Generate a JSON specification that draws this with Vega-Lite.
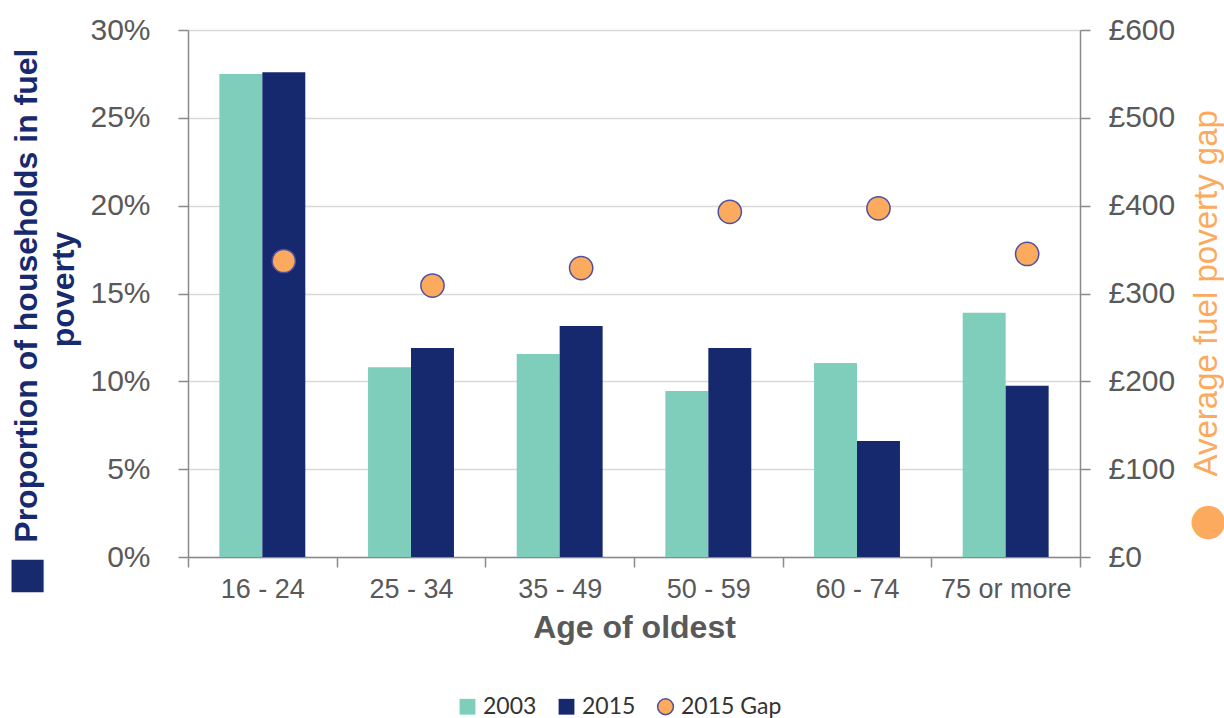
{
  "$schema": "https://vega.github.io/schema/vega-lite/v6.json",
  "width": 892,
  "height": 527,
  "autosize": {"type": "none"},
  "padding": {"left": 188, "top": 30, "right": 144, "bottom": 161},
  "background": "white",
  "config": {
    "view": {"stroke": null},
    "font": "Liberation Sans"
  },
  "datasets": {
    "bars": [
      {"age": "16 - 24", "slot": "2003", "series": "2003", "pct": 0.275},
      {"age": "16 - 24", "slot": "2015", "series": "2015", "pct": 0.276},
      {"age": "25 - 34", "slot": "2003", "series": "2003", "pct": 0.108},
      {"age": "25 - 34", "slot": "2015", "series": "2015", "pct": 0.119},
      {"age": "35 - 49", "slot": "2003", "series": "2003", "pct": 0.1155},
      {"age": "35 - 49", "slot": "2015", "series": "2015", "pct": 0.1315},
      {"age": "50 - 59", "slot": "2003", "series": "2003", "pct": 0.0945},
      {"age": "50 - 59", "slot": "2015", "series": "2015", "pct": 0.119},
      {"age": "60 - 74", "slot": "2003", "series": "2003", "pct": 0.1105},
      {"age": "60 - 74", "slot": "2015", "series": "2015", "pct": 0.066},
      {"age": "75 or more", "slot": "2003", "series": "2003", "pct": 0.139},
      {"age": "75 or more", "slot": "2015", "series": "2015", "pct": 0.0975}
    ],
    "gaps": [
      {"age": "16 - 24", "slot": "2015", "series": "2015 Gap", "gap": 337},
      {"age": "25 - 34", "slot": "2015", "series": "2015 Gap", "gap": 309},
      {"age": "35 - 49", "slot": "2015", "series": "2015 Gap", "gap": 329},
      {"age": "50 - 59", "slot": "2015", "series": "2015 Gap", "gap": 393},
      {"age": "60 - 74", "slot": "2015", "series": "2015 Gap", "gap": 397},
      {"age": "75 or more", "slot": "2015", "series": "2015 Gap", "gap": 345}
    ]
  },
  "encoding": {
    "x": {
      "field": "age",
      "type": "nominal",
      "sort": ["16 - 24", "25 - 34", "35 - 49", "50 - 59", "60 - 74", "75 or more"],
      "scale": {"paddingInner": 0, "paddingOuter": 0},
      "axis": {
        "title": "Age of oldest",
        "titleFontSize": 32,
        "titleFontWeight": "bold",
        "titleColor": "#595959",
        "titlePadding": 10,
        "labelFontSize": 27,
        "labelColor": "#595959",
        "labelAngle": 0,
        "labelPadding": 9,
        "tickBand": "extent",
        "tickSize": 10,
        "tickColor": "#8a8a8a",
        "tickWidth": 1.5,
        "domainColor": "#8a8a8a",
        "domainWidth": 1.5,
        "grid": false
      }
    },
    "xOffset": {
      "field": "slot",
      "type": "nominal",
      "scale": {"domain": ["2003", "2015"], "paddingInner": 0, "paddingOuter": 0.73}
    },
    "color": {
      "field": "series",
      "type": "nominal",
      "scale": {
        "domain": ["2003", "2015", "2015 Gap"],
        "range": ["#7FCDBB", "#16286E", "#FBAA5E"]
      },
      "legend": {
        "title": null,
        "orient": "none",
        "direction": "horizontal",
        "legendX": 268,
        "legendY": 665,
        "padding": 0,
        "labelFont": "Lato",
        "labelFontSize": 23,
        "labelColor": "#333333",
        "labelOffset": 4,
        "columnPadding": 18,
        "symbolSize": 250,
        "symbolOpacity": 1,
        "encode": {
          "symbols": {
            "update": {
              "shape": {"signal": "datum.value === '2015 Gap' ? 'circle' : 'square'"},
              "stroke": {"signal": "datum.value === '2015 Gap' ? '#5050A0' : 'transparent'"},
              "strokeWidth": {"value": 1.5}
            }
          }
        }
      }
    }
  },
  "layer": [
    {
      "data": {"name": "bars"},
      "mark": {"type": "bar"},
      "encoding": {
        "y": {
          "field": "pct",
          "type": "quantitative",
          "scale": {"domain": [0, 0.3], "nice": false},
          "axis": {
            "orient": "left",
            "values": [0, 0.05, 0.1, 0.15, 0.2, 0.25, 0.3],
            "format": ".0%",
            "labelFontSize": 30,
            "labelColor": "#595959",
            "labelPadding": 28,
            "tickSize": 10,
            "tickColor": "#8a8a8a",
            "tickWidth": 1.5,
            "domainColor": "#8a8a8a",
            "domainWidth": 1.5,
            "grid": true,
            "gridColor": "#d9d9d9",
            "gridWidth": 1.5,
            "title": ["⬛\uFE0E\u00a0\u00a0Proportion of households in fuel", "\u200b\u00a0\u00a0\u00a0\u00a0\u00a0\u00a0\u00a0poverty"],
            "titleFontSize": 32,
            "titleFontWeight": "bold",
            "titleColor": "#172A6E",
            "titleAngle": 270,
            "titleAlign": "center",
            "titleBaseline": "top",
            "titleX": -177,
            "titleY": 290,
            "titleLineHeight": 37
          }
        }
      }
    },
    {
      "data": {"name": "gaps"},
      "mark": {"type": "circle", "size": 540, "opacity": 1, "stroke": "#5050A0", "strokeWidth": 1.5},
      "encoding": {
        "y": {
          "field": "gap",
          "type": "quantitative",
          "scale": {"domain": [0, 600], "nice": false},
          "axis": {
            "orient": "right",
            "values": [0, 100, 200, 300, 400, 500, 600],
            "labelExpr": "'£' + datum.value",
            "labelFontSize": 30,
            "labelColor": "#595959",
            "labelPadding": 18,
            "tickSize": 10,
            "tickColor": "#8a8a8a",
            "tickWidth": 1.5,
            "domainColor": "#8a8a8a",
            "domainWidth": 1.5,
            "grid": false,
            "title": "⬤\u00a0\u00a0\u00a0Average fuel poverty gap",
            "titleFontSize": 33,
            "titleFontWeight": "normal",
            "titleColor": "#FBAA5E",
            "titleAngle": 270,
            "titleAlign": "center",
            "titleBaseline": "top",
            "titleX": 110,
            "titleY": 295
          }
        }
      }
    }
  ],
  "resolve": {"scale": {"y": "independent"}}
}
